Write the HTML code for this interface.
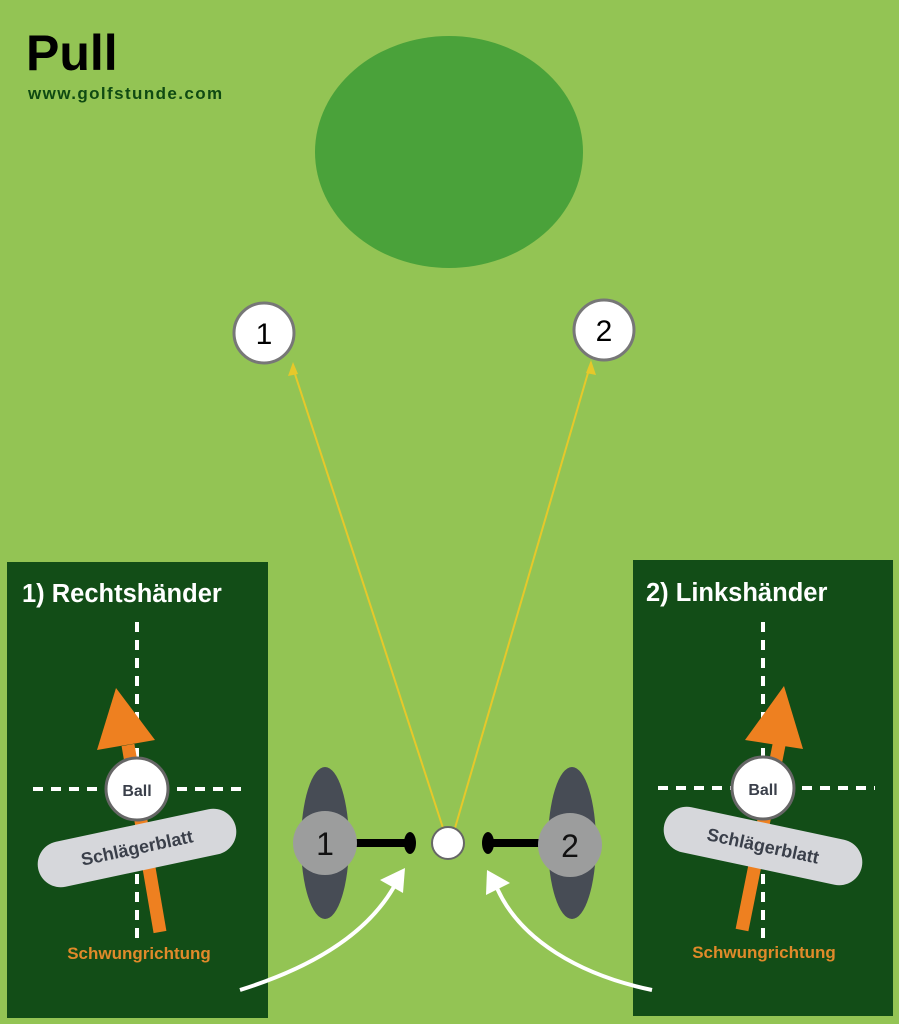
<!DOCTYPE html>
<html><head><meta charset="utf-8"><style>
body{margin:0;width:899px;height:1024px;overflow:hidden;background:#93c454}
svg{display:block}
text{font-family:"Liberation Sans",Arial,sans-serif}
</style></head><body>
<svg width="899" height="1024" viewBox="0 0 899 1024">
<rect width="899" height="1024" fill="#93c454"/>
<text x="26" y="70" font-size="50" font-weight="bold" fill="#000">Pull</text>
<text x="28" y="99" font-size="17" font-weight="bold" fill="#0f4a12" letter-spacing="1.4">www.golfstunde.com</text>
<ellipse cx="449" cy="152" rx="134" ry="116" fill="#4aa23a"/>
<g stroke="#e6c82a" stroke-width="2" fill="none">
<line x1="443" y1="828" x2="293" y2="368"/><line x1="455" y1="828" x2="590" y2="366"/></g>
<polygon points="293,362 288,376 298,374" fill="#e6c82a"/>
<polygon points="591,360 586,373 596,375" fill="#e6c82a"/>
<g stroke="#777" stroke-width="3" fill="#fff">
<circle cx="264" cy="333" r="30"/><circle cx="604" cy="330" r="30"/></g>
<text x="264" y="344" font-size="30" text-anchor="middle">1</text>
<text x="604" y="341" font-size="30" text-anchor="middle">2</text>
<rect x="7" y="562" width="261" height="456" fill="#124d17"/>
<rect x="633" y="560" width="260" height="456" fill="#124d17"/>
<text x="22" y="602" font-size="25.5" font-weight="bold" fill="#fff">1) Rechtshänder</text>
<text x="646" y="601" font-size="25.5" font-weight="bold" fill="#fff">2) Linkshänder</text>
<g stroke="#fff" stroke-width="4" stroke-dasharray="10,8" fill="none">
<line x1="137" y1="622" x2="137" y2="940"/><line x1="33" y1="789" x2="248" y2="789"/>
<line x1="763" y1="622" x2="763" y2="938"/><line x1="658" y1="788" x2="875" y2="788"/></g>
<line x1="160" y1="932" x2="128" y2="745" stroke="#ee8020" stroke-width="13"/>
<polygon points="116,688 97,750 155,740" fill="#ee8020"/>
<line x1="742" y1="930" x2="780" y2="740" stroke="#ee8020" stroke-width="13"/>
<polygon points="784,686 745,740 803,749" fill="#ee8020"/>
<g stroke="#666" stroke-width="3" fill="#fff">
<circle cx="137" cy="789" r="31"/><circle cx="763" cy="788" r="31"/></g>
<text x="137" y="796" font-size="16" font-weight="bold" fill="#3a3f4a" text-anchor="middle">Ball</text>
<text x="763" y="795" font-size="16" font-weight="bold" fill="#3a3f4a" text-anchor="middle">Ball</text>
<g transform="translate(137,848) rotate(-12)"><rect x="-101" y="-23" width="202" height="46" rx="23" fill="#d6d7db"/>
<text x="0" y="6" font-size="18" font-weight="bold" fill="#3a3f4a" text-anchor="middle">Schlägerblatt</text></g>
<g transform="translate(763,846) rotate(12)"><rect x="-101" y="-23" width="202" height="46" rx="23" fill="#d6d7db"/>
<text x="0" y="6" font-size="18" font-weight="bold" fill="#3a3f4a" text-anchor="middle">Schlägerblatt</text></g>
<text x="139" y="959" font-size="17" font-weight="bold" fill="#e08a2a" text-anchor="middle">Schwungrichtung</text>
<text x="764" y="958" font-size="17" font-weight="bold" fill="#e08a2a" text-anchor="middle">Schwungrichtung</text>
<ellipse cx="325" cy="843" rx="24" ry="76" fill="#474c55"/>
<line x1="350" y1="843" x2="410" y2="843" stroke="#000" stroke-width="8"/>
<ellipse cx="410" cy="843" rx="6" ry="11" fill="#000"/>
<circle cx="325" cy="843" r="32" fill="#9c9d9d"/>
<text x="325" y="855" font-size="32" text-anchor="middle" fill="#111">1</text>
<ellipse cx="572" cy="843" rx="24" ry="76" fill="#474c55"/>
<line x1="487" y1="843" x2="545" y2="843" stroke="#000" stroke-width="8"/>
<ellipse cx="488" cy="843" rx="6" ry="11" fill="#000"/>
<circle cx="570" cy="845" r="32" fill="#9c9d9d"/>
<text x="570" y="857" font-size="32" text-anchor="middle" fill="#111">2</text>
<circle cx="448" cy="843" r="16" fill="#fff" stroke="#666" stroke-width="2"/>
<path d="M240,990 C320,965 370,930 395,885" stroke="#fff" stroke-width="4" fill="none"/>
<polygon points="405,868 380,880 403,893" fill="#fff"/>
<path d="M652,990 C580,975 520,940 497,888" stroke="#fff" stroke-width="4" fill="none"/>
<polygon points="487,870 486,895 510,883" fill="#fff"/>
</svg>
</body></html>
